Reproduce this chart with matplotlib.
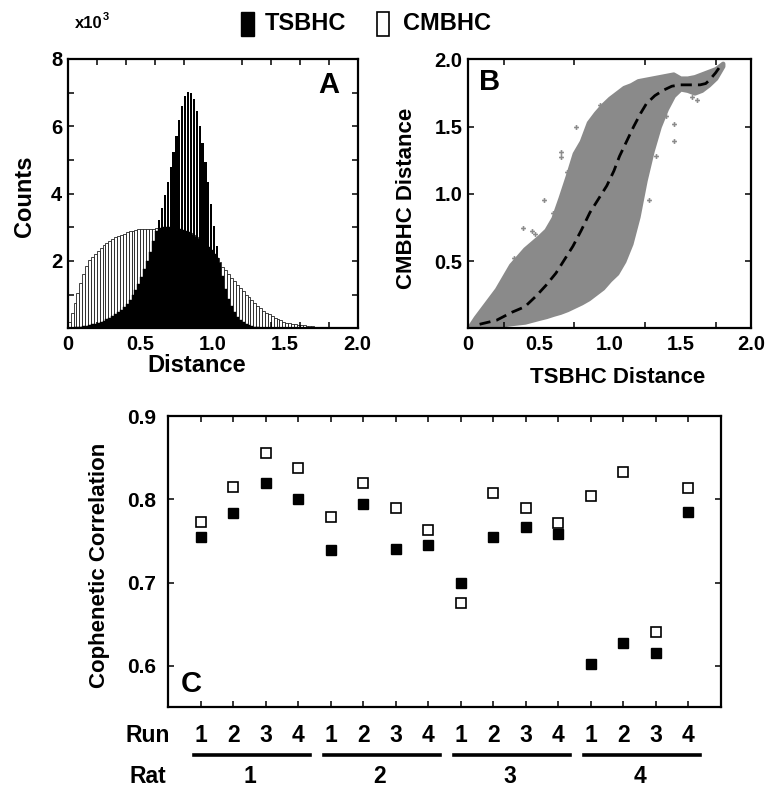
import matplotlib
matplotlib.use('Agg')
import matplotlib.pyplot as plt
import numpy as np
from matplotlib.patches import Rectangle
from matplotlib.lines import Line2D
from matplotlib.transforms import blended_transform_factory

plt.rcParams['font.family'] = ['Liberation Sans', 'DejaVu Sans']
plt.rcParams['font.weight'] = 'bold'

# ---------------- Panel A data (counts in thousands, bins of 0.02) ----------------
bin_width = 0.02
tsbhc_counts = [0.01, 0.02, 0.03, 0.04, 0.05, 0.06, 0.08, 0.10, 0.12, 0.14,
                0.16, 0.19, 0.23, 0.27, 0.31, 0.36, 0.41, 0.47, 0.54, 0.62,
                0.72, 0.84, 0.98, 1.14, 1.32, 1.52, 1.75, 2.00, 2.28, 2.58,
                2.90, 3.23, 3.58, 3.95, 4.35, 4.78, 5.25, 5.72, 6.20, 6.60,
                6.90, 7.02, 7.00, 6.80, 6.45, 6.00, 5.50, 4.95, 4.35, 3.70,
                3.05, 2.45, 1.95, 1.55, 1.18, 0.88, 0.65, 0.48, 0.35, 0.25,
                0.18, 0.13, 0.09, 0.06, 0.04, 0.03, 0.02, 0.01, 0.01, 0.0]
cmbhc_counts = [0.20, 0.45, 0.75, 1.05, 1.35, 1.62, 1.85, 2.02, 2.12, 2.20,
                2.30, 2.38, 2.46, 2.54, 2.60, 2.65, 2.70, 2.74, 2.78, 2.81,
                2.85, 2.88, 2.90, 2.92, 2.94, 2.95, 2.95, 2.95, 2.95, 2.96,
                2.97, 2.98, 2.99, 3.00, 3.00, 3.00, 2.99, 2.98, 2.96, 2.93,
                2.90, 2.87, 2.83, 2.78, 2.70, 2.64, 2.57, 2.50, 2.42, 2.33,
                2.22, 2.10, 1.97, 1.83, 1.72, 1.62, 1.50, 1.40, 1.30, 1.20,
                1.10, 1.00, 0.92, 0.83, 0.75, 0.67, 0.59, 0.52, 0.46, 0.41,
                0.36, 0.32, 0.28, 0.24, 0.20, 0.17, 0.15, 0.13, 0.12, 0.11,
                0.10, 0.09, 0.08, 0.07, 0.06, 0.05, 0.05, 0.04, 0.04, 0.03]

# ---------------- Panel B data ----------------
band_x = [0.0, 0.05, 0.1, 0.15, 0.2, 0.3, 0.4, 0.5, 0.55, 0.6, 0.65, 0.7, 0.75, 0.8,
          0.85, 0.9, 0.95, 1.0, 1.05, 1.1, 1.15, 1.2, 1.25, 1.3, 1.35, 1.4, 1.45,
          1.5, 1.55, 1.6, 1.65, 1.7, 1.75, 1.8]
band_upper = [0.0, 0.08, 0.15, 0.22, 0.29, 0.47, 0.59, 0.68, 0.73, 0.82, 0.97, 1.13,
              1.30, 1.39, 1.53, 1.60, 1.66, 1.71, 1.75, 1.79, 1.81, 1.84, 1.85, 1.86,
              1.87, 1.88, 1.89, 1.86, 1.86, 1.87, 1.89, 1.91, 1.93, 1.97]
band_lower = [0.0, 0.0, 0.005, 0.012, 0.02, 0.035, 0.047, 0.075, 0.088, 0.105, 0.12,
              0.14, 0.165, 0.19, 0.22, 0.26, 0.30, 0.36, 0.41, 0.50, 0.63, 0.83,
              1.10, 1.32, 1.50, 1.63, 1.73, 1.78, 1.77, 1.75, 1.77, 1.81, 1.86, 1.95]
outlier_x = [0.765, 0.653, 0.653, 0.535, 0.385, 0.325, 0.931, 1.454, 1.454, 1.276,
             0.45, 0.47, 1.62, 1.58, 0.60, 0.70, 1.33, 1.40]
outlier_y = [1.50, 1.31, 1.27, 0.957, 0.747, 0.525, 1.66, 1.52, 1.39, 0.957,
             0.72, 0.70, 1.70, 1.72, 0.86, 1.16, 1.28, 1.58]
dash_x = [0.08, 0.2, 0.31, 0.4, 0.48, 0.55, 0.62, 0.68, 0.74, 0.8, 0.86, 0.92, 0.98,
          1.03, 1.07, 1.12, 1.17, 1.22, 1.26, 1.32, 1.38, 1.44, 1.5, 1.57, 1.64,
          1.68, 1.71, 1.75, 1.79]
dash_y = [0.03, 0.06, 0.12, 0.16, 0.24, 0.32, 0.41, 0.51, 0.61, 0.73, 0.86, 0.96,
          1.06, 1.17, 1.28, 1.39, 1.50, 1.60, 1.67, 1.73, 1.77, 1.80, 1.81, 1.81,
          1.81, 1.82, 1.85, 1.90, 1.96]

# ---------------- Panel C data ----------------
runs = list(range(1, 17))
tsbhc_coph = [0.755, 0.784, 0.820, 0.800, 0.739, 0.794, 0.740, 0.745,
              0.699, 0.755, 0.767, 0.758, 0.602, 0.628, 0.615, 0.785]
cmbhc_coph = [0.773, 0.815, 0.855, 0.838, 0.779, 0.819, 0.790, 0.763,
              0.676, 0.807, 0.789, 0.772, 0.804, 0.833, 0.641, 0.813]
run_labels = ['1', '2', '3', '4'] * 4
rat_labels = ['1', '2', '3', '4']

W, H = 770, 789
fig = plt.figure(figsize=(7.7, 7.89), dpi=100)

def fx(px):
    return px / W

def fy(py):
    return 1 - py / H

def style_axes(ax):
    for s in ax.spines.values():
        s.set_linewidth(1.6)
    ax.tick_params(which='both', direction='in', top=True, right=True,
                   width=1.1, length=4)

# ---------------- Panel A ----------------
axA = fig.add_axes([fx(67.7), fy(328.3), fx(357.7) - fx(67.7), fy(59) - fy(328.3)])
n_c = len(cmbhc_counts)
n_t = len(tsbhc_counts)
cent_c = np.arange(n_c) * bin_width + bin_width / 2
cent_t = np.arange(n_t) * bin_width + bin_width / 2
cm_pad = np.array(cmbhc_counts + [0.0] * max(0, n_t - n_c))[:n_t]
ts_arr = np.array(tsbhc_counts)
overlap = np.minimum(ts_arr, cm_pad)
axA.bar(cent_c, cmbhc_counts, width=bin_width, color='white', edgecolor='#111111',
        linewidth=0.55, zorder=1)
# black bars: solid where covered by CMBHC, with thin gaps above it
axA.bar(cent_t, overlap, width=bin_width, color='black', edgecolor='black',
        linewidth=0.3, zorder=2)
axA.bar(cent_t, ts_arr, width=bin_width * 0.78, color='black', linewidth=0,
        zorder=2)
axA.set_xlim(0, 2.0)
axA.set_ylim(0, 8)
axA.set_xticks([0, 0.5, 1.0, 1.5, 2.0])
axA.set_xticklabels(['0', '0.5', '1.0', '1.5', '2.0'])
axA.set_xticks(np.arange(0.2, 2.0, 0.2), minor=True)
axA.set_yticks([2, 4, 6, 8])
axA.set_yticklabels(['2', '4', '6', '8'])
axA.set_yticks([1, 3, 5, 7], minor=True)
style_axes(axA)
axA.tick_params(axis='x', which='major', length=0, pad=5, labelsize=14.5)
axA.tick_params(axis='y', which='major', pad=4, labelsize=14.5)

# ---------------- Panel B ----------------
axB = fig.add_axes([fx(468.3), fy(328.3), fx(751) - fx(468.3), fy(59.3) - fy(328.3)])
grey = '#8a8a8a'
axB.fill_between(band_x, band_lower, band_upper, color=grey, linewidth=3.2,
                 edgecolor=grey, zorder=1)
axB.plot(outlier_x, outlier_y, linestyle='none', marker='P', markersize=3.5,
         color=grey, markeredgewidth=0, zorder=1)
axB.plot(dash_x, dash_y, color='black', linewidth=2.0, dashes=(4, 2.2), zorder=3)
axB.set_xlim(0, 2.0)
axB.set_ylim(0, 2.0)
axB.set_xticks([0, 0.5, 1.0, 1.5, 2.0])
axB.set_xticklabels(['0', '0.5', '1.0', '1.5', '2.0'])
axB.set_xticks(np.arange(0.25, 2.0, 0.25), minor=True)
axB.set_yticks([0.5, 1.0, 1.5, 2.0])
axB.set_yticklabels(['0.5', '1.0', '1.5', '2.0'])
style_axes(axB)
axB.tick_params(axis='x', which='major', length=0, pad=5, labelsize=14.5)
axB.tick_params(axis='y', which='major', pad=4, labelsize=14.5)

# ---------------- Panel C ----------------
axC = fig.add_axes([fx(168.3), fy(706.7), fx(721) - fx(168.3), fy(416) - fy(706.7)])
axC.plot(runs, cmbhc_coph, linestyle='none', marker='s', markersize=7.6,
         markerfacecolor='white', markeredgecolor='black', markeredgewidth=1.2)
axC.plot(runs, tsbhc_coph, linestyle='none', marker='s', markersize=7.6,
         markerfacecolor='black', markeredgecolor='black')
axC.set_xlim(0, 17)
axC.set_ylim(0.551, 0.9)
axC.set_xticks(runs)
axC.set_xticklabels([])
axC.set_yticks([0.6, 0.7, 0.8, 0.9])
axC.set_yticklabels(['0.6', '0.7', '0.8', '0.9'])
style_axes(axC)
axC.tick_params(axis='y', which='major', pad=9, labelsize=15)

trans = blended_transform_factory(axC.transData, fig.transFigure)
for x, lab in zip(runs, run_labels):
    axC.text(x, fy(735), lab, transform=trans, ha='center', va='center',
             fontsize=16.5, fontweight='bold', clip_on=False)
for g, lab in enumerate(rat_labels):
    start = runs[g * 4]
    end = runs[g * 4 + 3]
    axC.add_line(Line2D([start - 0.2, end + 0.35], [fy(755), fy(755)], transform=trans,
                        color='black', linewidth=2.6, clip_on=False))
    axC.text((start + end) / 2, fy(776.5), lab, transform=trans, ha='center',
             va='center', fontsize=16.5, fontweight='bold', clip_on=False)
fig.text(fx(147.5), fy(735), 'Run', ha='center', va='center', fontsize=16.5,
         fontweight='bold')
fig.text(fx(147.5), fy(776.5), 'Rat', ha='center', va='center', fontsize=16.5,
         fontweight='bold')

# ---------------- Axis labels & panel letters ----------------
fig.text(fx(24), fy(196.7), 'Counts', rotation=90, ha='center', va='center',
         fontsize=17, fontweight='bold')
fig.text(fx(197), fy(372), 'Distance', ha='center', va='baseline', fontsize=17,
         fontweight='bold')
fig.text(fx(406.7), fy(198.3), 'CMBHC Distance', rotation=90, ha='center',
         va='center', fontsize=16, fontweight='bold')
fig.text(fx(618), fy(383), 'TSBHC Distance', ha='center', va='baseline',
         fontsize=16, fontweight='bold')
fig.text(fx(100), fy(565), 'Cophenetic Correlation', rotation=90, ha='center',
         va='center', fontsize=16, fontweight='bold')

fig.text(fx(328.3), fy(92.7), 'A', ha='center', va='baseline', fontsize=21,
         fontweight='bold')
fig.text(fx(490), fy(90), 'B', ha='center', va='baseline', fontsize=21,
         fontweight='bold')
fig.text(fx(191.7), fy(691.7), 'C', ha='center', va='baseline', fontsize=21,
         fontweight='bold')

fig.text(fx(75), fy(28.3), 'x10', ha='left', va='baseline', fontsize=12,
         fontweight='bold')
fig.text(fx(102.5), fy(20), '3', ha='left', va='baseline', fontsize=8,
         fontweight='bold')

# ---------------- Legend ----------------
fig.patches.append(Rectangle((fx(240.7), fy(36)), fx(254) - fx(240.7), fy(11.7) - fy(36),
                             transform=fig.transFigure, facecolor='black',
                             edgecolor='black', linewidth=1))
fig.text(fx(265), fy(24), 'TSBHC', ha='left', va='center', fontsize=17,
         fontweight='bold')
fig.patches.append(Rectangle((fx(377), fy(36)), fx(389.3) - fx(377), fy(11.7) - fy(36),
                             transform=fig.transFigure, facecolor='white',
                             edgecolor='black', linewidth=1.2))
fig.text(fx(403), fy(24), 'CMBHC', ha='left', va='center', fontsize=17,
         fontweight='bold')

fig.savefig('out.png', dpi=100)
